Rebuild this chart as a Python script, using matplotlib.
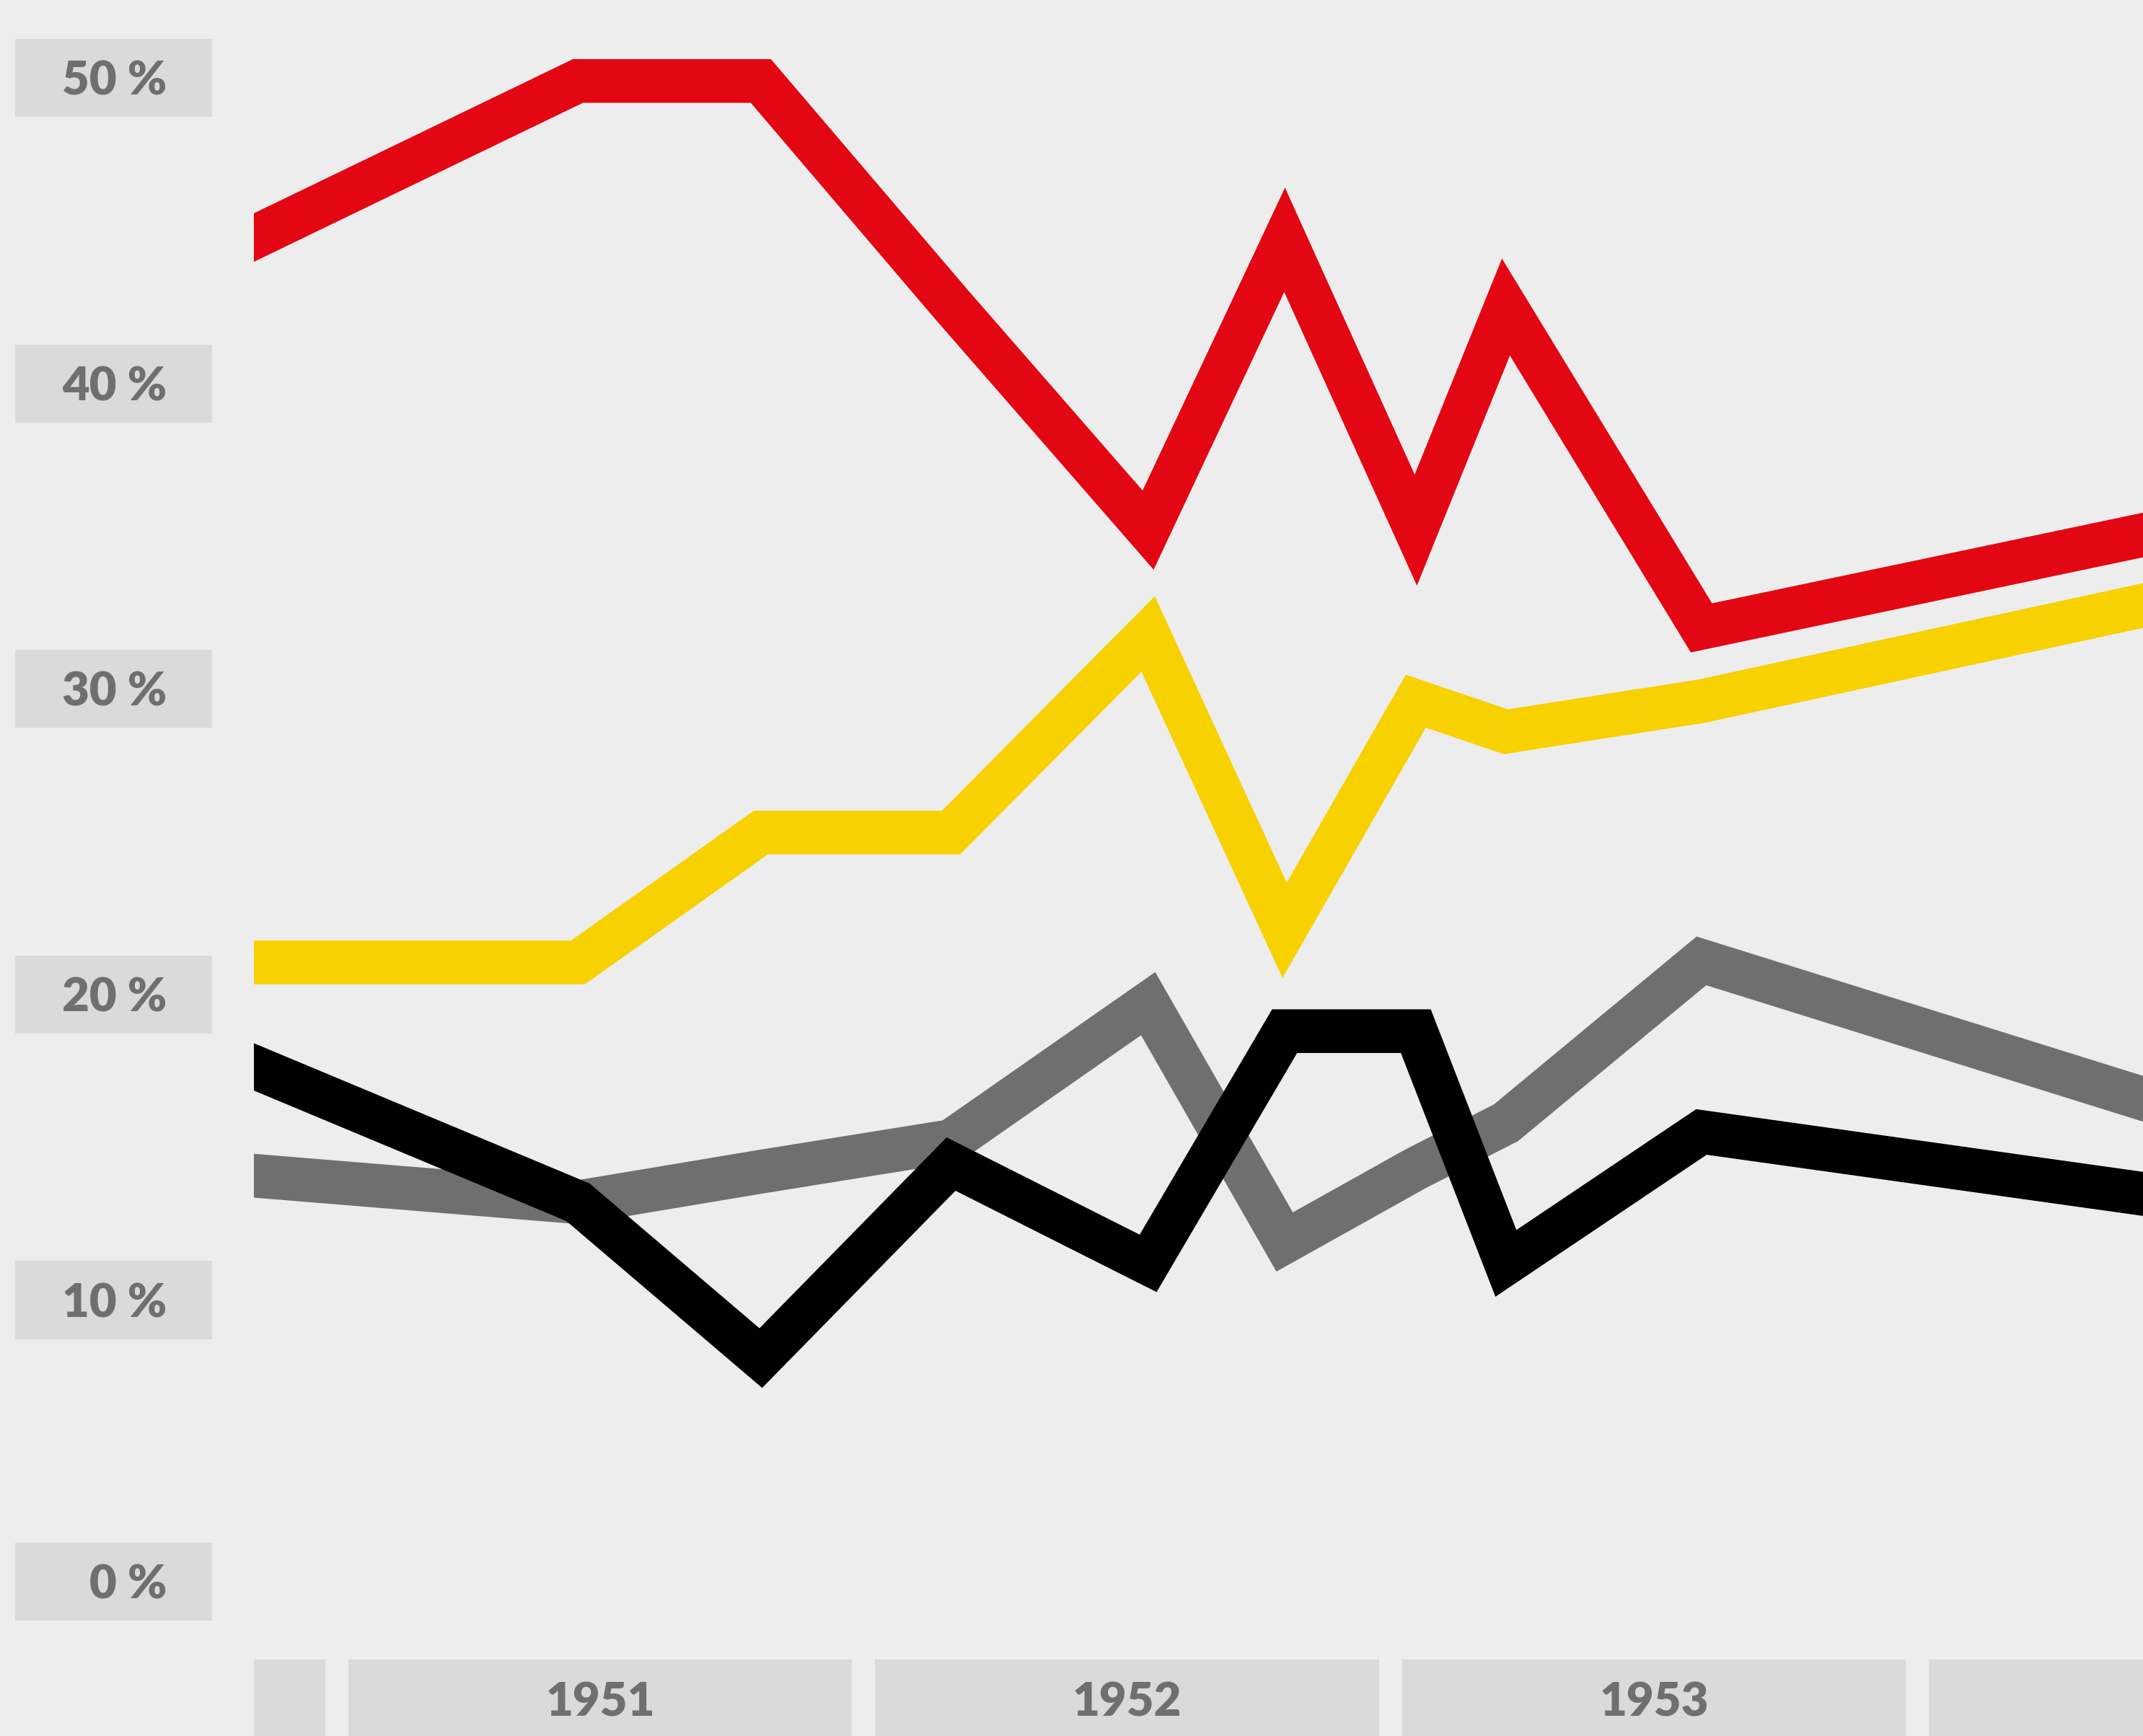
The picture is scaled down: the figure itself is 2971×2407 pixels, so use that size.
import matplotlib.pyplot as plt
from matplotlib.patches import Rectangle, PathPatch
from matplotlib.path import Path
from matplotlib.transforms import blended_transform_factory

# poll dates as fractional years (first and last lie just outside the visible area)
dates = [1950.75, 1951.458, 1951.805, 1952.166, 1952.540, 1952.799,
         1953.048, 1953.219, 1953.590, 1954.5]

red = [44.0, 49.9, 49.9, 42.6, 35.2, 44.7, 35.2, 42.5, 32.0, 35.3]
yellow = [21.05, 21.05, 25.3, 25.3, 31.8, 22.1, 29.6, 28.6, 29.6, 33.0]
grey = [14.2, 13.2, 14.2, 15.2, 19.7, 11.9, 14.3, 15.8, 21.1, 16.2]
black = [18.3, 13.2, 8.1, 14.45, 11.2, 18.8, 18.8, 11.2, 15.5, 13.3]

y_ticks = [0, 10, 20, 30, 40, 50]
y_labels = ["0 %", "10 %", "20 %", "30 %", "40 %", "50 %"]
years = [1950, 1951, 1952, 1953, 1954]
year_labels = ["", "1951", "1952", "1953", ""]

BG = "#ededed"
BOX = "#dadada"
TXT = "#6f6f6f"

plt.rcParams["font.family"] = ["Lato", "DejaVu Sans"]

fig = plt.figure(figsize=(29.71, 24.07), dpi=100, facecolor=BG)
ax = fig.add_axes([352 / 2971, 0, 1 - 352 / 2971, 1])
ax.set_facecolor(BG)
for s in ax.spines.values():
    s.set_visible(False)
ax.set_xticks([])
ax.set_yticks([])

# Thick polylines as PathPatches: a (practically invisible) face stops agg from
# pre-clipping the path at the canvas edge, which would leave slanted butt caps.
lw = 43.6
for vals, c in [(grey, "#6f6f6f"), (yellow, "#f7d100"), (red, "#e30613"), (black, "#000000")]:
    p = PathPatch(Path(list(zip(dates, vals))), facecolor=(1, 1, 1, 1e-4),
                  edgecolor=c, lw=lw, joinstyle="miter", capstyle="butt")
    ax.add_patch(p)

# y labels in grey boxes, left of the plot area
ty = blended_transform_factory(fig.transFigure, ax.transData)
for v, lab in zip(y_ticks, y_labels):
    yc = max(v, 0.78)  # bottom label sits a little above the 0 line
    ax.add_patch(Rectangle((0.00702, yc - 1.275), 0.0918, 2.55, transform=ty,
                           facecolor=BOX, edgecolor="none", clip_on=False))
    ax.text(0.0778, yc - 0.12, lab, transform=ty, ha="right", va="center",
            fontsize=47, fontweight="heavy", color=TXT, clip_on=False)

# year boxes along the bottom
tx = blended_transform_factory(ax.transData, ax.transAxes)
gap = 0.044
for yr, lab in zip(years, year_labels):
    ax.add_patch(Rectangle((yr + gap / 2, 0), 1 - gap, 0.0441, transform=tx,
                           facecolor=BOX, edgecolor="none"))
    if lab:
        ax.text(yr + 0.5, 0.019, lab, transform=tx, ha="center", va="center",
                fontsize=47, fontweight="heavy", color=TXT)

ax.set_xlim(1950.843, 1954.428)
ax.set_ylim(-4.27, 52.55)

fig.savefig("out.png", dpi=100, facecolor=BG)
